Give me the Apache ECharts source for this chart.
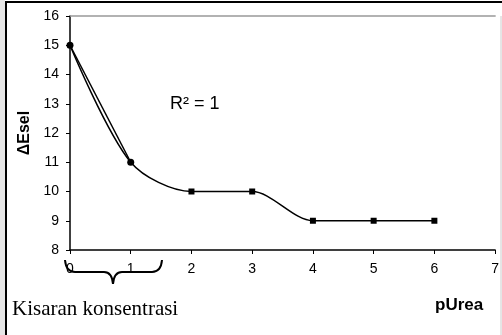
<!DOCTYPE html>
<html>
<head>
    <meta charset="utf-8"/>
    <style>
        html, body {
            height: 100%;
            margin: 0;
            padding: 0;
            background: #ffffff;
        }

        .container {
            width: 502px;
            height: 335px;
        }
    </style>
</head>
<body>
<div id="main" class="container"></div>
<script src="https://cdn.jsdelivr.net/npm/echarts@6/dist/echarts.min.js"></script>
<script type="text/javascript">
    // 数据
    var pUrea = [0, 1, 2, 3, 4, 5, 6];
    var deltaEsel = [15, 11, 10, 10, 9, 9, 9];
    // 线性趋势线 (R^2 = 1)
    var trendX = [0, 1];
    var trendY = [15, 11];
    // 坐标轴刻度
    var xTicks = [0, 7, 1];
    var yTicks = [8, 16, 1];

    var myChart = echarts.init(document.getElementById('main'));

    function pairs(xs, ys) {
        var out = [];
        for (var i = 0; i < xs.length; i++) {
            out.push([xs[i], ys[i]]);
        }
        return out;
    }

    var mainData = pairs(pUrea, deltaEsel).map(function (p, i) {
        // 前两个点显示为圆点
        return i < 2 ? {value: p, symbol: 'circle', symbolSize: 7} : p;
    });

    var labelFont = {color: '#000', fontSize: 14, fontFamily: 'Liberation Sans, Arial'};
    var braceStyle = {stroke: '#000', lineWidth: 2, fill: null};

    // 花括号 (由曲线和直线组成)
    function curve(x1, y1, cx, cy, x2, y2) {
        return {type: 'bezierCurve', shape: {x1: x1, y1: y1, cpx1: cx, cpy1: cy, x2: x2, y2: y2}, style: braceStyle, silent: true};
    }
    function seg(x1, y1, x2, y2) {
        return {type: 'line', shape: {x1: x1, y1: y1, x2: x2, y2: y2}, style: braceStyle, silent: true};
    }

    var option = {
        animation: false,
        grid: {left: 70, right: 2, top: 16, bottom: 85},
        xAxis: [{
            type: 'value',
            min: xTicks[0], max: xTicks[1], interval: xTicks[2],
            axisLine: {lineStyle: {color: '#000', width: 1.5}},
            axisTick: {show: true, length: 4, lineStyle: {color: '#000'}},
            axisLabel: Object.assign({margin: 12}, labelFont),
            splitLine: {show: false}
        }, {
            // 顶部边框线
            type: 'value', position: 'top',
            min: xTicks[0], max: xTicks[1],
            axisLine: {show: true, lineStyle: {color: '#999', width: 1.5}},
            axisTick: {show: false}, axisLabel: {show: false}, splitLine: {show: false}
        }],
        yAxis: [{
            type: 'value',
            min: yTicks[0], max: yTicks[1], interval: yTicks[2],
            name: 'ΔEsel',
            nameLocation: 'middle',
            nameGap: 35,
            nameTextStyle: {color: '#000', fontSize: 16, fontWeight: 'bold', fontFamily: 'Liberation Sans, Arial'},
            axisLine: {show: true, lineStyle: {color: '#000', width: 1.5}},
            axisTick: {show: true, length: 4, lineStyle: {color: '#000'}},
            axisLabel: Object.assign({margin: 11}, labelFont),
            splitLine: {show: false}
        }],
        graphic: [
            {type: 'rect', shape: {x: 0, y: 0, width: 5, height: 335}, style: {fill: '#e6e6e6'}, silent: true},
            seg(5, 2, 502, 2),
            seg(6, 2, 6, 335),
            {type: 'line', shape: {x1: 501, y1: 16, x2: 501, y2: 335}, style: {stroke: '#ccc', lineWidth: 1}, silent: true},
            curve(65, 260, 66, 272, 75, 272),
            seg(75, 272, 104, 272),
            curve(104, 272, 112, 272, 113, 284),
            curve(113, 284, 114, 272, 122, 272),
            seg(122, 272, 152, 272),
            curve(152, 272, 161, 272, 162, 260),
            {
                type: 'text', left: 12, top: 299,
                style: {text: 'Kisaran konsentrasi', font: '21px "Liberation Serif", "Times New Roman", serif', fill: '#000'}
            },
            {
                type: 'text', left: 435, top: 297,
                style: {text: 'pUrea', font: 'bold 17px "Liberation Sans", Arial', fill: '#000'}
            },
            {
                type: 'text', left: 170, top: 95,
                style: {text: 'R² = 1', font: '18px "Liberation Sans", Arial', fill: '#000'}
            }
        ],
        series: [{
            type: 'line',
            data: pairs(trendX, trendY),
            showSymbol: false,
            lineStyle: {color: '#000', width: 1.5},
            z: 2
        }, {
            type: 'line',
            data: mainData,
            smooth: 0.3,
            symbol: 'rect',
            symbolSize: 6,
            itemStyle: {color: '#000'},
            lineStyle: {color: '#000', width: 1.5},
            z: 3
        }]
    };

    myChart.setOption(option);
</script>
</body>
</html>
